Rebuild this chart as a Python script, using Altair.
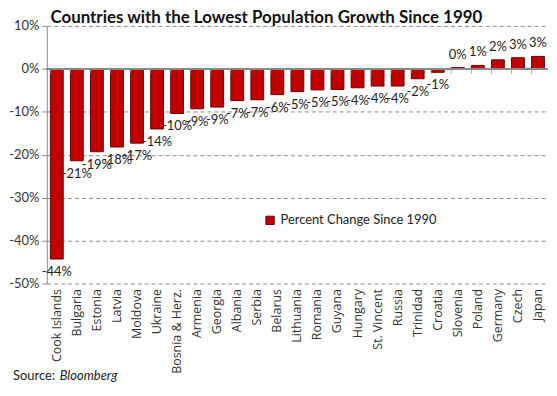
import altair as alt
import pandas as pd

countries = ["Cook Islands", "Bulgaria", "Estonia", "Latvia", "Moldova", "Ukraine",
             "Bosnia & Herz.", "Armenia", "Georgia", "Albania", "Serbia", "Belarus",
             "Lithuania", "Romania", "Guyana", "Hungary", "St. Vincent", "Russia",
             "Trinidad", "Croatia", "Slovenia", "Poland", "Germany", "Czech", "Japan"]
values = [-44.3, -21.4, -19.3, -18.2, -17.3, -14.0, -10.4, -9.3, -8.9, -7.4, -7.2,
          -6.0, -5.3, -4.9, -4.8, -4.4, -4.0, -4.0, -2.3, -0.8, 0.3, 0.8, 2.1, 2.6, 2.9]
series_name = "Percent Change Since 1990"
y_ticks = [10, 0, -10, -20, -30, -40, -50]

df = pd.DataFrame({"country": countries, "value": values, "series": series_name})
df["label"] = [f"{round(v):d}%" for v in values]

FONT = "Lato"
W, H = 504, 259

base = alt.Chart(df)
xenc = alt.X("country:N", sort=countries, scale=alt.Scale(paddingInner=0.36, paddingOuter=0.18),
             axis=alt.Axis(title=None, labelAngle=270, labelAlign="right", labelBaseline="middle",
                           domain=False, ticks=False, labelPadding=5, labelFontSize=12.5,
                           labelColor="#333333", labelFont="Open Sans"))
yscale = alt.Scale(domain=[-50, 10], nice=False, zero=False)
yenc = alt.Y("value:Q", scale=yscale,
             axis=alt.Axis(title=None, values=y_ticks, labelExpr="datum.value + '%'",
                           grid=True, gridDash=[4, 3], gridColor="#8a8a8a", gridWidth=1,
                           domainColor="#8a8a8a", tickColor="#8a8a8a", tickSize=5,
                           labelFontSize=13, labelColor="#333333", labelFont=FONT,
                           labelPadding=3))

bars = base.mark_bar(stroke="#6e0000", strokeWidth=1).encode(
    x=xenc, y=yenc,
    color=alt.Color("series:N", scale=alt.Scale(range=["#C00000"]),
                    legend=alt.Legend(title=None, orient="none", legendX=218, legendY=189,
                                      symbolType="square", symbolSize=70,
                                      symbolStrokeColor="#6e0000", symbolStrokeWidth=1,
                                      labelFontSize=13, labelFont=FONT, labelColor="#222222"))
)

zero = base.mark_rule(color="#8a8a8a", strokeWidth=1).encode(y=alt.datum(0))

ticks = base.mark_tick(orient="vertical", size=5, yOffset=2.5, color="#8a8a8a", thickness=1).encode(
    x=alt.X("country:N", sort=countries, bandPosition=0), y=alt.datum(0))

neg = base.transform_filter("datum.value < 0").mark_text(
    baseline="middle", dy=13, fontSize=13, font=FONT, color="#222222").encode(
    x=alt.X("country:N", sort=countries), y="value:Q", text="label:N")
pos = base.transform_filter("datum.value >= 0").mark_text(
    baseline="middle", dy=-13, fontSize=13, font=FONT, color="#222222").encode(
    x=alt.X("country:N", sort=countries), y="value:Q", text="label:N")

src1 = alt.Chart(pd.DataFrame({"t": ["Source: "]})).mark_text(
    align="left", baseline="middle", fontSize=13, font=FONT, color="#222222").encode(
    x=alt.value(-34), y=alt.value(H + 93), text="t:N")
src2 = alt.Chart(pd.DataFrame({"t": ["Bloomberg"]})).mark_text(
    align="left", baseline="middle", fontSize=13, font=FONT, fontStyle="italic", color="#222222").encode(
    x=alt.value(13), y=alt.value(H + 93), text="t:N")

chart = alt.layer(bars, zero, ticks, neg, pos, src1, src2).properties(
    width=W, height=H, padding={"left": 0, "top": 0, "right": 0, "bottom": 0},
    title=alt.Title("Countries with the Lowest Population Growth Since 1990",
                    fontSize=17, font=FONT, fontWeight="bold", color="#111111",
                    anchor="start", dx=42, offset=-7)
).configure_view(stroke=None)

chart.save("out.html", embed_options={"renderer": "svg", "actions": False})
